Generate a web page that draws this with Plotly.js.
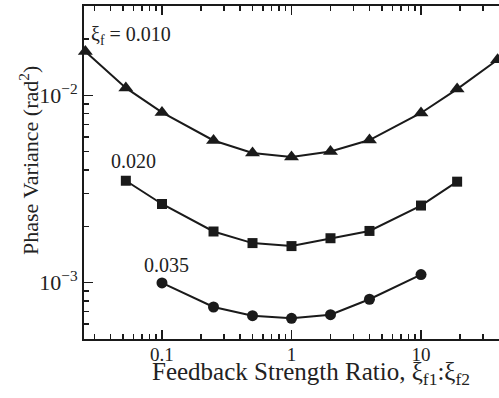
<!DOCTYPE html>
<html>
<head>
<meta charset="utf-8">
<script src="https://cdn.plot.ly/plotly-3.0.1.min.js"></script>
<style>html,body{margin:0;padding:0;background:#fff;}#chart{width:499px;height:398px;}</style>
</head>
<body>
<div id="chart"></div>
<script>
// Data
const ratioA = [0.0256, 0.0526, 0.1, 0.25, 0.5, 1, 2, 4, 10, 19, 39];
const varA = [0.01715, 0.01096, 0.00811, 0.00574, 0.00492, 0.00469, 0.00502, 0.00577, 0.00805, 0.0108, 0.0155];
const ratioB = [0.0526, 0.1, 0.25, 0.5, 1, 2, 4, 10, 19];
const varB = [0.00350, 0.00263, 0.001875, 0.001626, 0.001567, 0.001726, 0.001888, 0.00258, 0.00346];
const ratioC = [0.1, 0.25, 0.5, 1, 2, 4, 10];
const varC = [0.000996, 0.000741, 0.000666, 0.000645, 0.000674, 0.000815, 0.001104];
const seriesLabels = ["ξ<sub>f</sub> = 0.010", "0.020", "0.035"];
const xTickVals = [0.1, 1, 10];
const xTickText = ["0.1", "1", "10"];
const xMinor = [0.03,0.04,0.05,0.06,0.07,0.08,0.09,0.2,0.3,0.4,0.5,0.6,0.7,0.8,0.9,2,3,4,5,6,7,8,9,20,30];
const yTickVals = [0.001, 0.01];
const yTickText = ["10<sup>−3</sup>", "10<sup>−2</sup>"];
const yMinor = [0.0006,0.0007,0.0008,0.0009,0.002,0.003,0.004,0.005,0.006,0.007,0.008,0.009,0.02];
const xTitle = 'Feedback Strength Ratio, ξ<sub>f1</sub>:ξ<sub>f2</sub>';
const yTitle = 'Phase Variance (rad<sup>2</sup>)';

const ink = '#1a1a1a';
const fam = '"Liberation Serif", "Times New Roman", serif';
const tickFontX = {family: fam, size: 19, color: '#222'};
const tickFontY = {family: fam, size: 22, color: '#222'};
const labelFont = {family: fam, size: 20, color: '#222'};
const xTitleFont = {family: fam, size: 25, color: '#222'};
const yTitleFont = {family: fam, size: 22, color: '#222'};

function tr(x, y, sym, size) {
  return {x: x, y: y, mode: 'lines+markers', type: 'scatter', cliponaxis: false,
    line: {color: ink, width: 2}, marker: {symbol: sym, size: size, color: ink}, showlegend: false};
}
const data = [
  tr(ratioA, varA, 'triangle-up', 13),
  tr(ratioB, varB, 'square', 10),
  tr(ratioC, varC, 'circle', 11)
];

const axisCommon = {
  type: 'log', showgrid: false, zeroline: false, showline: true, linecolor: ink, linewidth: 2,
  ticks: 'inside', ticklen: 9, tickwidth: 1.5, tickcolor: ink
};
const minorCommon = {tickmode: 'array', ticklen: 5, tickwidth: 1.5, tickcolor: ink, ticks: 'inside'};

const layout = {
  width: 499, height: 398,
  margin: {l: 84, r: 0, t: 6, b: 59},
  paper_bgcolor: '#fff', plot_bgcolor: '#fff',
  font: labelFont,
  xaxis: Object.assign({}, axisCommon, {
    range: [Math.log10(0.025), Math.log10(40)],
    tickmode: 'array', tickvals: xTickVals, ticktext: xTickText, mirror: 'ticks', tickfont: tickFontX,
    ticklabelstandoff: -3,
    minor: Object.assign({tickvals: xMinor}, minorCommon)
  }),
  yaxis: Object.assign({}, axisCommon, {
    range: [Math.log10(5e-4), Math.log10(3e-2)],
    tickmode: 'array', tickvals: yTickVals, ticktext: yTickText, tickfont: tickFontY,
    minor: Object.assign({tickvals: yMinor}, minorCommon)
  }),
  annotations: [
    {x: Math.log10(0.0256), y: Math.log10(0.0210), xref: 'x', yref: 'y', text: seriesLabels[0], showarrow: false, xanchor: 'left', yanchor: 'middle', xshift: 4, font: labelFont},
    {x: Math.log10(0.0526), y: Math.log10(0.00445), xref: 'x', yref: 'y', text: seriesLabels[1], showarrow: false, xanchor: 'left', yanchor: 'middle', xshift: -17, font: labelFont},
    {x: Math.log10(0.1), y: Math.log10(0.001245), xref: 'x', yref: 'y', text: seriesLabels[2], showarrow: false, xanchor: 'left', yanchor: 'middle', xshift: -20, font: labelFont},
    {x: 0.548, y: -0.05, xref: 'paper', yref: 'paper', text: xTitle, showarrow: false, xanchor: 'center', yanchor: 'top', font: xTitleFont},
    {x: -0.1325, y: 0.5345, xref: 'paper', yref: 'paper', text: yTitle, showarrow: false, textangle: -90, xanchor: 'center', yanchor: 'middle', font: yTitleFont}
  ]
};

Plotly.newPlot('chart', data, layout, {displayModeBar: false, staticPlot: true});
</script>
</body>
</html>
